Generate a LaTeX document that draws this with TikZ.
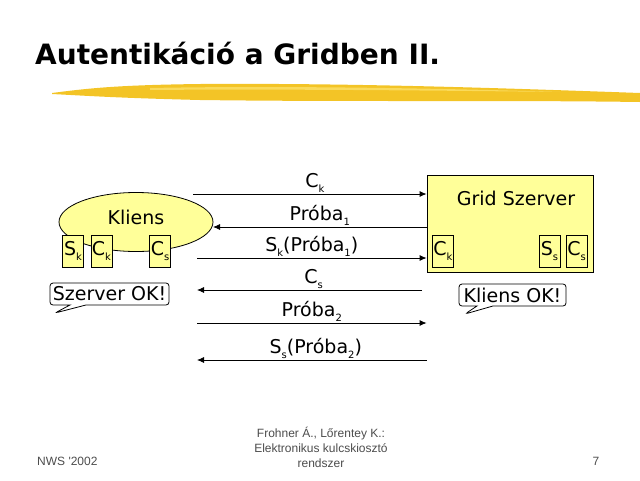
\documentclass[tikz,border=0pt]{standalone}
\usepackage{fontspec}
\setmainfont{DejaVu Sans}
\newfontfamily\footfont{Liberation Sans}
\usetikzlibrary {arrows.meta,
                 positioning,
                 shapes.geometric,
                 shapes.callouts}
\definecolor{paleyellow}{RGB}{255,255,153}
\definecolor{brushgold}{RGB}{243,196,38}
\definecolor{brushlight}{RGB}{250,218,90}
\newcommand{\idx}[1]{\raisebox{-0.5ex}{\fontsize{10}{10}\selectfont #1}}
\tikzset{
        base/.style={draw, align=center, line width=0.8pt,
                     font=\fontsize{19}{22}\selectfont},
        key/.style={base, rectangle, fill=paleyellow, minimum width=21pt,
                    minimum height=32pt, inner sep=0pt},
        party/.style={base, fill=paleyellow, inner sep=0pt},
        okbox/.style={base, rectangle callout, rounded corners=3pt,
                      fill=white, inner sep=1pt, minimum width=119pt,
                      minimum height=22pt, callout pointer width=16pt},
        msg/.style={font=\fontsize{19}{22}\selectfont, inner sep=1pt},
        myarrow/.style={-{Latex[length=7pt,width=6pt]}, line width=0.8pt},
        foot/.style={font=\footfont\fontsize{12}{14}\selectfont,
                     text=black!70, align=center, inner sep=0pt},
 }

\begin{document}
\begin{tikzpicture}[x=1pt, y=-1pt]
    \useasboundingbox (0,0) rectangle (640,480);

    % title and brush stroke
    \node[anchor=base west, inner sep=0pt,
          font=\bfseries\fontsize{28}{34}\selectfont] (title) at (35,64)
          {Autentikáció a Gridben II.};
    \fill[brushgold] (52,93) .. controls (90,88) and (120,85) .. (200,84)
        .. controls (350,83) and (500,88) .. (640,93) -- (640,102)
        .. controls (500,100) and (350,102) .. (200,100)
        .. controls (120,98) and (90,96) .. (52,94) -- cycle;
    \fill[brushlight] (150,88) .. controls (250,86) and (400,87) .. (560,92)
        .. controls (400,90) and (250,89) .. (150,90) -- cycle;

    % client
    \node[party, ellipse, minimum width=154pt, minimum height=59pt] (kl) at (136,222) {};
    \node[msg] (kltxt) at (136,217) {Kliens};
    \node[key] (sk) at (73,251) {S\idx{k}};
    \node[key] (ck) at (101.5,251) {C\idx{k}};
    \node[key] (cs) at (160,251) {C\idx{s}};

    % server
    \node[party, rectangle, minimum width=166pt, minimum height=97pt] (srv) at (510,223.5) {};
    \node[msg] (srvtxt) at (516,198) {Grid Szerver};
    \node[key] (sck) at (443,251) {C\idx{k}};
    \node[key] (sss) at (549.5,251) {S\idx{s}};
    \node[key] (scs) at (576.5,251) {C\idx{s}};

    % messages
    \coordinate (m1) at (193,194);
    \coordinate (m2) at (213,227);
    \coordinate (m3) at (197,258);
    \coordinate (m4) at (197,290);
    \coordinate (m4r) at (422,290);
    \coordinate (m5) at (197,323);
    \coordinate (m6) at (197,360);

    \draw[myarrow] (m1) -- node[msg, above, xshift=5pt] (l1) {C\idx{k}} (m1 -| srv.west);
    \draw[myarrow] (m2 -| srv.west) -- node[msg, above] (l2) {Próba\idx{1}} (m2);
    \draw[myarrow] (m3) -- node[msg, above] (l3) {S\idx{k}(Próba\idx{1})} (m3 -| srv.west);
    \draw[myarrow] (m4r) -- node[msg, above, xshift=4pt] (l4) {C\idx{s}} (m4);
    \draw[myarrow] (m5) -- node[msg, above] (l5) {Próba\idx{2}} (m5 -| srv.west);
    \draw[myarrow] (m6 -| srv.west) -- node[msg, above, xshift=4pt] (l6) {S\idx{s}(Próba\idx{2})} (m6);

    % acknowledgements
    \coordinate (sztip) at (55,313);
    \coordinate (kltip) at (465,314);
    \node[okbox, callout absolute pointer={(sztip)}] (szok) at (109.5,294) {Szerver OK!};
    \node[okbox, minimum width=107pt, callout absolute pointer={(kltip)}] (klok) at (512.5,295) {Kliens OK!};

    % footer
    \node[foot, anchor=base west] (nws) at (37,465) {NWS '2002};
    \node[foot] (auth) at (321,447) {Frohner Á., Lőrentey K.:\\[1pt]Elektronikus kulcskiosztó\\[1pt]rendszer};
    \node[foot, anchor=base] (page) at (596,465) {7};
\end{tikzpicture}
\end{document}
